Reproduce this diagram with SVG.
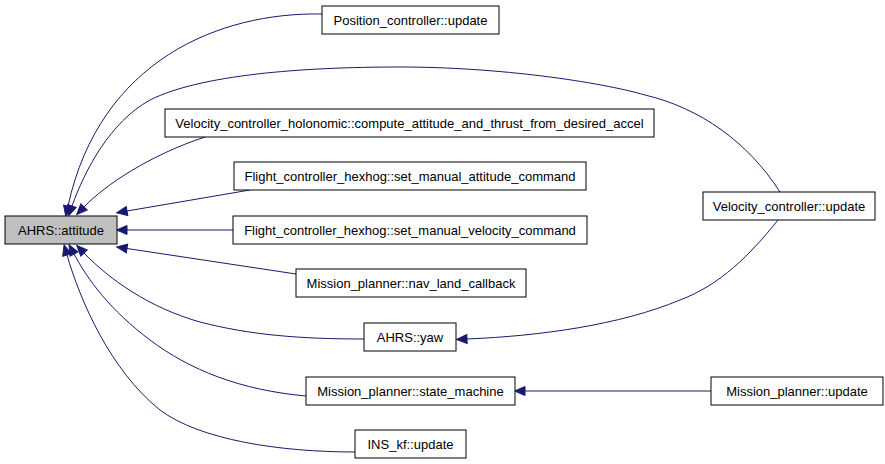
<svg xmlns="http://www.w3.org/2000/svg" width="885" height="464" viewBox="0 0 885 464">
<style>
.node rect{fill:#ffffff;stroke:#000000;stroke-width:1}
.node.main rect{fill:#bfbfbf}
.node text{font-family:"Liberation Sans",Arial,sans-serif;font-size:13px;fill:#000000;text-anchor:middle}
.edge{fill:none;stroke:#191970;stroke-width:1;marker-end:url(#arr)}
</style>
<defs>
<marker id="arr" markerUnits="userSpaceOnUse" markerWidth="14" markerHeight="12" refX="0" refY="0" orient="auto" overflow="visible">
<path d="M0,-4.5 L10.5,0 L0,4.5 z" fill="#191970" stroke="#191970" stroke-width="1"/>
</marker>
</defs>
<rect width="885" height="464" fill="#ffffff"/>
<g id="edges">
<path class="edge" d="M322,14 C220,12 100,60 68,206"/>
<path class="edge" d="M780,192 C748,142 700,108 645,95 C600,82 500,67 400,67 C300,67 200,75 150,100 C110,122 85,170 72,206"/>
<path class="edge" d="M205,137 C150,155 105,185 84,207"/>
<path class="edge" d="M250,190 L127,211"/>
<path class="edge" d="M233,230 L127,230"/>
<path class="edge" d="M296,274 L127,248.5"/>
<path class="edge" d="M364,339 C300,339 250,335 200,322 C150,308 110,280 84,253"/>
<path class="edge" d="M306,396 C240,390 190,370 150,340 C110,310 88,280 74,254"/>
<path class="edge" d="M355,452 C280,452 200,440 160,410 C110,370 80,300 67,255"/>
<path class="edge" d="M778,220 C750,255 720,285 680,300 C620,325 540,336 467,339"/>
<path class="edge" d="M711,391 L525,391"/>
</g>
<g id="node-ahrs-attitude" class="node main"><rect x="5" y="216" width="112" height="28"/><text x="61" y="235">AHRS::attitude</text></g>
<g id="node-position-update" class="node"><rect x="322" y="6" width="177" height="28"/><text x="410.5" y="25">Position_controller::update</text></g>
<g id="node-holonomic" class="node"><rect x="165" y="109" width="489" height="28"/><text x="409.5" y="128">Velocity_controller_holonomic::compute_attitude_and_thrust_from_desired_accel</text></g>
<g id="node-fc-attitude" class="node"><rect x="234" y="162" width="352" height="28"/><text x="410" y="181">Flight_controller_hexhog::set_manual_attitude_command</text></g>
<g id="node-fc-velocity" class="node"><rect x="233" y="216" width="354" height="28"/><text x="410" y="235">Flight_controller_hexhog::set_manual_velocity_command</text></g>
<g id="node-nav-land" class="node"><rect x="296" y="269" width="230" height="28"/><text x="411" y="288">Mission_planner::nav_land_callback</text></g>
<g id="node-ahrs-yaw" class="node"><rect x="364" y="323" width="92" height="28"/><text x="410" y="342">AHRS::yaw</text></g>
<g id="node-state-machine" class="node"><rect x="306" y="377" width="209" height="28"/><text x="410.5" y="396">Mission_planner::state_machine</text></g>
<g id="node-ins-update" class="node"><rect x="355" y="430" width="111" height="28"/><text x="410.5" y="449">INS_kf::update</text></g>
<g id="node-velocity-update" class="node"><rect x="703" y="192" width="172" height="28"/><text x="789" y="211">Velocity_controller::update</text></g>
<g id="node-mission-update" class="node"><rect x="711" y="377" width="172" height="28"/><text x="797" y="396">Mission_planner::update</text></g>
</svg>
